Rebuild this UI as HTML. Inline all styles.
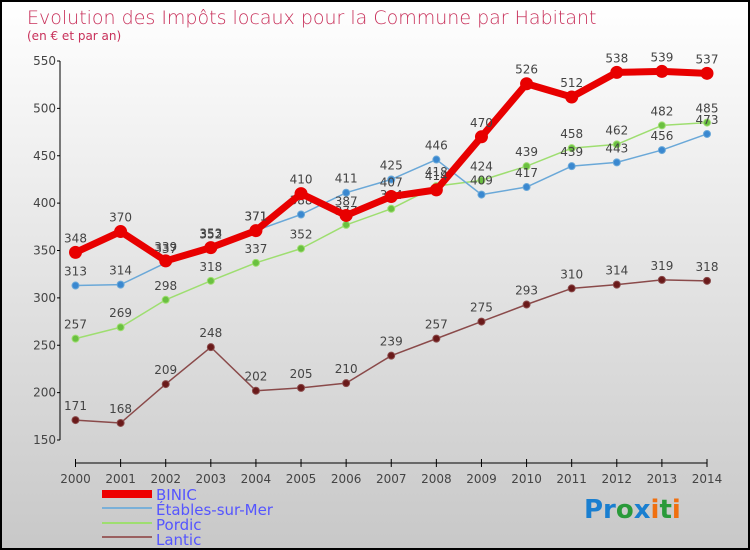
<!DOCTYPE html>
<html><head><meta charset="utf-8"><style>
body{margin:0}
#c{position:relative;width:750px;height:550px;box-sizing:border-box;border:2px solid #000;background:linear-gradient(#fff,#c8c8c8);font-family:"DejaVu Sans","Liberation Sans",sans-serif;overflow:hidden}
svg text{font-family:"DejaVu Sans","Liberation Sans",sans-serif}
</style></head><body>
<div id="c">
<svg id="s" width="746" height="546">
<text x="25" y="22" font-size="19" fill="#c8305a" font-weight="200">Evolution des Impôts locaux pour la Commune par Habitant</text>
<text x="25" y="38" font-size="12" fill="#c8305a">(en € et par an)</text>
<g id="g"></g>
<g>
<rect x="100" y="488" width="50" height="8" fill="#e00"/>
<text x="154" y="498" font-size="15" fill="#55f">BINIC</text>
<rect x="100" y="505" width="50" height="2" fill="#7ab0d8"/>
<text x="154" y="513" font-size="15" fill="#55f">Étables-sur-Mer</text>
<rect x="100" y="520" width="50" height="2" fill="#9ede70"/>
<text x="154" y="528" font-size="15" fill="#55f">Pordic</text>
<rect x="100" y="534" width="50" height="2" fill="#9a6060"/>
<text x="154" y="543" font-size="15" fill="#55f">Lantic</text>
</g>
<text x="582" y="516" font-size="26" font-weight="bold"><tspan fill="#1a7fd0">Pr</tspan><tspan fill="#2a9a3a">o</tspan><tspan fill="#1a7fd0">x</tspan><tspan fill="#f07010">i</tspan><tspan fill="#2a9a3a">t</tspan><tspan fill="#f07010">i</tspan></text>
</svg></div>
<script>
const years=[2000,2001,2002,2003,2004,2005,2006,2007,2008,2009,2010,2011,2012,2013,2014];
const yTicks=[150,200,250,300,350,400,450,500,550];
const binic=[348,370,339,353,371,410,387,407,414,470,526,512,538,539,537];
const etables=[313,314,337,352,371,388,411,425,446,409,417,439,443,456,473];
const pordic=[257,269,298,318,337,352,377,394,418,424,439,458,462,482,485];
const lantic=[171,168,209,248,202,205,210,239,257,275,293,310,314,319,318];
const NS="http://www.w3.org/2000/svg";
const g=document.getElementById('g');
const X=i=>73.5+i*(705-73.5)/(years.length-1);
const Y=v=>438-(v-150)*(379/400);
function el(t,a,p){const e=document.createElementNS(NS,t);for(const k in a)e.setAttribute(k,a[k]);(p||g).appendChild(e);return e;}
let ax=el('line',{x1:58,y1:59,x2:58,y2:438,stroke:'#000'});

let bx=el('line',{x1:73.5,y1:461,x2:705,y2:461,stroke:'#000'});

yTicks.forEach(v=>{
 let l=el('line',{x1:55,y1:Y(v),x2:58,y2:Y(v),stroke:'#000'});
 
 let t=el('text',{x:54,y:Y(v)+4,'font-size':12,fill:'#444','text-anchor':'end'});t.textContent=v;
 
});
years.forEach((yr,i)=>{
 let l=el('line',{x1:X(i),y1:457,x2:X(i),y2:465,stroke:'#000'});
 
 let t=el('text',{x:X(i),y:481,'font-size':12,fill:'#444','text-anchor':'middle'});t.textContent=yr;
 
});
function series(d,col,w,r,name,dot){
 const pts=d.map((v,i)=>X(i)+','+Y(v)).join(' ');
 let p=el('polyline',{points:pts,fill:'none',stroke:col,'stroke-width':w,'stroke-linejoin':'round'});
 
 d.forEach((v,i)=>{
  let c=el('circle',{cx:X(i),cy:Y(v),r:r,fill:dot,stroke:col,'stroke-width':1});
  
  let t=el('text',{x:X(i),y:Y(v)-10,'font-size':12,fill:'#444','text-anchor':'middle'});t.textContent=v;
  
 });
}
series(lantic,'#8a4a4a',1.5,3.5,'lantic','#6a1a1a');
series(pordic,'#9ede70',1.5,3.5,'pordic','#6ac040');
series(etables,'#6aa8d8',1.5,3.5,'etables','#3a88d0');
series(binic,'#e80000',7,6,'binic','#e80000');
</script>
</body></html>
